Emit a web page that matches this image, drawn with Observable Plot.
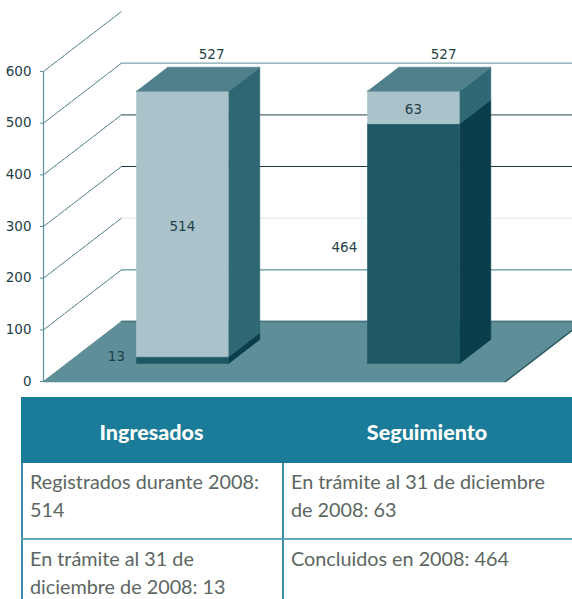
<!DOCTYPE html>
<html><head><meta charset="utf-8">
<script src="https://cdn.jsdelivr.net/npm/d3@7"></script>
<script src="https://cdn.jsdelivr.net/npm/@observablehq/plot@0.6"></script>
<style>
html,body{margin:0;padding:0;background:#fff;overflow:hidden;width:572px;height:599px}
svg{display:block}
#tbl{position:absolute;left:21px;top:397px;width:551px;box-sizing:border-box;font-family:Lato,sans-serif;color:#5c6662;font-size:19.8px;line-height:27.5px}
.row{display:grid;grid-template-columns:261px 290px}
.hd{background:#1a7c98;color:#fff;font-weight:900;height:66px;line-height:71px;text-align:center;font-size:21.5px}
.c{box-sizing:border-box;padding:5px 0 0 7px;border-left:2px solid #3f8fa8;height:77px;border-bottom:2px solid #62a9bd;}
.r2 .c{height:70px;border-bottom:none}
</style></head><body>
<div id="chart"></div><div id="tbl"></div>
<script>
const categories = ["Ingresados","Seguimiento"];
const lowerValues = [13,464];
const upperValues = [514,63];
const totals = [527,527];
const yTicks = [0,100,200,300,400,500,600];
const gridColors = [null,"#5f939f","#e6ecee","#1f3b40","#4f6b70","#7ea3ad",null];
const row1 = ["Registrados durante 2008:<br>514","En trámite al 31 de diciembre<br>de 2008: 63"];
const row2 = ["En trámite al 31 de<br>diciembre de 2008: 13","Concluidos en 2008: 464"];

const DX = 78/231, DY = 116.1;
const P = (c,v,z) => ({x:c+z*DX, y:v+z*DY});
const polys = [];
const poly = (id,color,pts)=>pts.forEach(p=>polys.push({id,color,...P(...p)}));
const zF=.3, zB=.7, hw=.2;
const face = (name,c,v0,v1,front,side)=>{
  poly(name+"f",front,[[c-hw,v0,zF],[c+hw,v0,zF],[c+hw,v1,zF],[c-hw,v1,zF]]);
  poly(name+"s",side,[[c+hw,v0,zF],[c+hw,v0,zB],[c+hw,v1,zB],[c+hw,v1,zF]]);
};
categories.forEach((n,i)=>{
  const c=i+.5;
  face(n+"L",c,0,lowerValues[i],"#1d5864","#0a3e4b");
  face(n+"U",c,lowerValues[i],totals[i],"#aac3ca","#2f6873");
  poly(n+"T","#4f808c",[[c-hw,totals[i],zF],[c+hw,totals[i],zF],[c+hw,totals[i],zB],[c-hw,totals[i],zB]]);
});
const floor = [[0,0,0],[2,0,0],[2,0,1],[0,0,1]].map(p=>P(...p));
const diag = yTicks.flatMap(v=>[{v,...P(0,v,0)},{v,...P(0,v,1)}]);
const back = yTicks.flatMap((v,i)=>gridColors[i]?[{v,col:gridColors[i],...P(0,v,1)},{v,col:gridColors[i],...P(2.4,v,1)}]:[]);
const labels = [
  {t:lowerValues[0],...P(.5,lowerValues[0]/2,zF),dx:-66,dy:-3},
  {t:upperValues[0],...P(.5,lowerValues[0]+upperValues[0]/2,zF),dx:0,dy:2.5},
  {t:lowerValues[1],...P(1.5,lowerValues[1]/2,zF),dx:-69,dy:4},
  {t:upperValues[1],...P(1.5,lowerValues[1]+upperValues[1]/2,zF),dx:0,dy:2},
  {t:totals[0],...P(.5,totals[0],zB),dx:-2,dy:-13},
  {t:totals[1],...P(1.5,totals[1],zB),dx:-1,dy:-13}
];
const txt = "#1f3f48";
const plot = Plot.plot({
  width:572,height:397,marginLeft:43,marginRight:0,marginTop:0,marginBottom:0,
  style:{fontFamily:"'DejaVu Sans'",fontSize:"12px",background:"#fff",color:txt},
  x:{domain:[0,529/231],range:[43,572],axis:null},
  y:{domain:[0,381/.5167],range:[381,0],axis:null},
  marks:[
    Plot.line(back,{x:"x",y:"y",z:"v",stroke:"col",strokeWidth:1.2,clip:true}),
    Plot.line(diag,{x:"x",y:"y",z:"v",stroke:"#4f7d87",strokeWidth:1,strokeDasharray:"8 1"}),
    Plot.line(floor,{x:"x",y:"y",fill:"#5e8f99",stroke:"#5e8f99",clip:true}),
    Plot.line(floor.slice(1,3),{x:"x",y:"y",stroke:"#2f5a63",clip:true}),
    Plot.line(floor.slice(2),{x:"x",y:"y",stroke:"#47757f",clip:true}),
    Plot.line(polys,{x:"x",y:"y",z:"id",fill:"color",stroke:"color",strokeWidth:.6}),
    Plot.ruleX([0],{y1:0,y2:600,stroke:"#5b8f9c",strokeWidth:1.2}),
    Plot.axisY({ticks:yTicks,anchor:"left",tickSize:3,tickPadding:9,label:null,fontSize:13.5,stroke:"#5b8f9c",fill:txt}),
    ...labels.map(l=>Plot.text([l],{x:"x",y:"y",text:d=>String(d.t),dx:l.dx,dy:l.dy,fontSize:13.5,fill:txt}))
  ]
});
document.getElementById("chart").append(plot);
document.getElementById("tbl").innerHTML =
  `<div class="row hd"><div>${categories[0]}</div><div>${categories[1]}</div></div>`+
  `<div class="row"><div class="c">${row1[0]}</div><div class="c">${row1[1]}</div></div>`+
  `<div class="row r2"><div class="c">${row2[0]}</div><div class="c">${row2[1]}</div></div>`;
</script></body></html>
